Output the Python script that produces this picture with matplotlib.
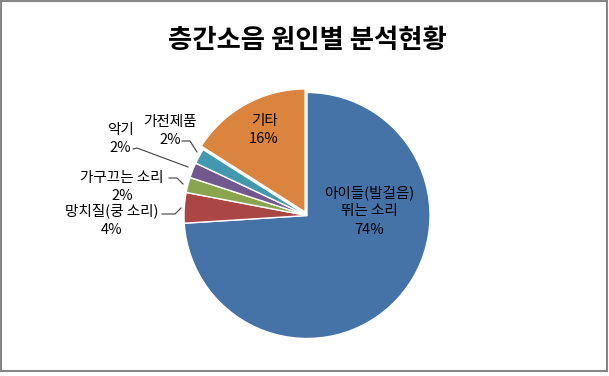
import matplotlib.pyplot as plt
from matplotlib.patches import Rectangle

plt.rcParams['font.family'] = ['Noto Sans CJK KR', 'DejaVu Sans']

title = '층간소음 원인별 분석현황'
labels = ['아이들(발걸음)\n뛰는 소리', '망치질(쿵 소리)', '가구끄는 소리', '악기', '가전제품', '기타']
values = [74, 4, 2, 2, 2, 16]
colors = ['#4572A7', '#AA4643', '#89A54E', '#71588F', '#4198AF', '#DB843D']

fig = plt.figure(figsize=(6.09, 3.76), dpi=100)
ax = fig.add_axes([0, 0, 1, 1])

cx, cy, r = 307, 215.5, 123
wedges, _ = ax.pie(values, colors=colors, center=(cx, cy), radius=r,
                   startangle=-90, counterclock=True,
                   explode=[0, 0, 0, 0, 0, 4],
                   wedgeprops=dict(edgecolor='white', linewidth=1.0))
ax.set_xlim(0, 609)
ax.set_ylim(376, 0)  # pixel-like coords, y down
ax.set_aspect('equal')
ax.axis('off')

# label positions (pixels) and leader lines (None = label inside slice)
pos = [(369, 211), (112, 220), (122, 187), (120, 139), (170, 131), (264, 130)]
leaders = [None,
           [(162, 214), (175, 214), (181, 208)],
           [(169, 178), (177, 178), (183, 184)],
           [(133, 149), (137, 148), (188, 167)],
           [(182, 141), (190, 141), (197, 152)],
           None]

for lab, v, (x, y), ld in zip(labels, values, pos, leaders):
    ax.text(x, y, f'{lab}\n{v}%', ha='center', va='center', fontsize=10.5,
            fontweight='medium', color='black', linespacing=1.4)
    if ld:
        xs, ys = zip(*ld)
        ax.plot(xs, ys, color='#404040', lw=0.8)

fig.text(0.505, 1 - 41 / 376, title, ha='center', va='center',
         fontsize=19, fontweight='bold')

fig.patches.append(Rectangle((0.002, 0.012), 0.994, 0.985, transform=fig.transFigure,
                             fill=False, edgecolor='#878787', lw=1.5))

fig.savefig('out.png', dpi=100)
